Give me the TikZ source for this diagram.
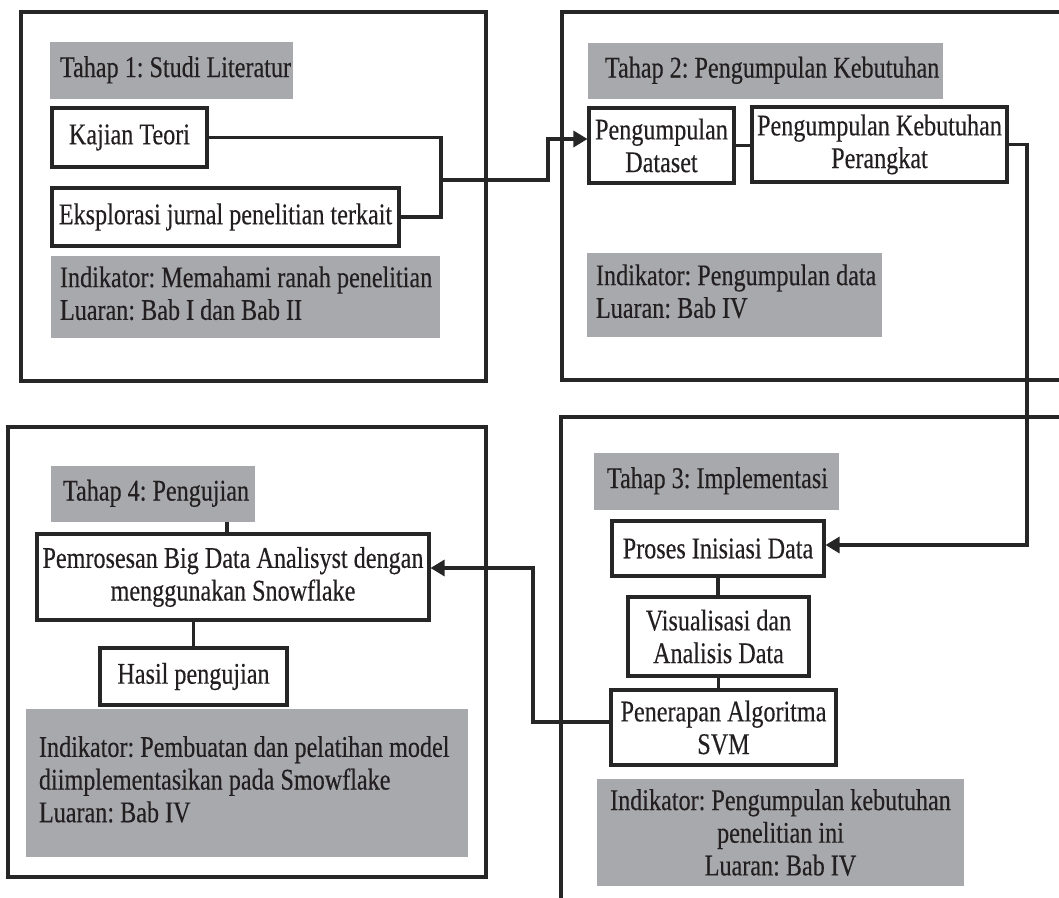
\documentclass[tikz,border=0pt]{standalone}
\usepackage{fontspec}
\setmainfont{Liberation Serif}[FakeStretch=0.805,FakeBold=0.3]
\usetikzlibrary{arrows.meta}
\definecolor{grayfill}{RGB}{167,169,172}
\definecolor{linec}{RGB}{38,38,38}
\definecolor{textc}{RGB}{35,31,32}
\frenchspacing
\hyphenpenalty=10000
\exhyphenpenalty=10000
\newcommand\gtext[3]{\makebox[#1][l]{\hspace*{#2}\begin{tabular}{@{}l@{}}#3\end{tabular}}}
\begin{document}
\begin{tikzpicture}[x=0.75pt,y=-0.75pt,
  font=\fontsize{22.5}{24.5}\selectfont, text=textc,
  box/.style={draw=linec, line width=2.3pt, fill=white, align=center, inner sep=1pt},
  gbox/.style={fill=grayfill, inner sep=0pt},
  frame/.style={draw=linec, line width=2.3pt},
  conn/.style={draw=linec, line width=2.3pt},
  arr/.style={conn, -{Triangle[length=10.5pt,width=12pt]}}]
\fill[white] (0,0) rectangle (1059,898);
\useasboundingbox (0,0) rectangle (1059,898);

% frames
\draw[frame] (21,12) rectangle (486,381);
\draw[frame] (1059,12) -- (562,12) -- (562,380) -- (1059,380);
\draw[frame] (1059,417) -- (561,417) -- (561,898);
\draw[frame] (8,427) rectangle (486,877);

% Tahap 1
\node[gbox, minimum width=182.25pt, minimum height=42.75pt] (t1) at (171.5,70.5) {\gtext{182.25pt}{7.5pt}{Tahap 1: Studi Literatur}};
\node[box, minimum width=116.25pt, minimum height=44.25pt] (kt) at (129.5,137.5) {Kajian Teori};
\node[box, minimum width=260.25pt, minimum height=43.5pt] (ek) at (225.5,217) {Eksplorasi jurnal penelitian terkait};
\node[gbox, minimum width=291.75pt, minimum height=61.5pt] (i1) at (245.5,297) {\gtext{291.75pt}{6.75pt}{Indikator: Memahami ranah penelitian\\Luaran: Bab I dan Bab II}};

% Tahap 2
\node[gbox, minimum width=266.25pt, minimum height=42pt] (t2) at (765.5,71) {\gtext{266.25pt}{12.75pt}{Tahap 2: Pengumpulan Kebutuhan}};
\node[box, minimum width=108.75pt, minimum height=56.25pt] (pd) at (661.5,145.5) {Pengumpulan\\Dataset};
\node[box, minimum width=191.25pt, minimum height=56.25pt] (pk) at (879.5,144.5) {Pengumpulan Kebutuhan\\Perangkat};
\node[gbox, minimum width=221.25pt, minimum height=63pt] (i2) at (734.5,295) {\gtext{221.25pt}{6.75pt}{Indikator: Pengumpulan data\\Luaran: Bab IV}};

% Tahap 3
\node[gbox, minimum width=183.75pt, minimum height=42.75pt] (t3) at (716.5,481.5) {\gtext{183.75pt}{9.75pt}{Tahap 3: Implementasi}};
\node[box, minimum width=159pt, minimum height=41.25pt] (pi) at (718,548.5) {Proses Inisiasi Data};
\node[box, minimum width=135.75pt, minimum height=59.25pt] (va) at (718.5,636.5) {Visualisasi dan\\Analisis Data};
\node[box, minimum width=168.75pt, minimum height=56.25pt] (pa) at (723.5,727.5) {Penerapan Algoritma\\SVM};
\node[gbox, align=center, minimum width=275.25pt, minimum height=80.25pt] (i3) at (780.5,832.5) {Indikator: Pengumpulan kebutuhan\\penelitian ini\\Luaran: Bab IV};

% Tahap 4
\node[gbox, minimum width=153pt, minimum height=42pt] (t4) at (153,494) {\gtext{153pt}{9pt}{Tahap 4: Pengujian}};
\node[box, minimum width=294pt, minimum height=64.5pt] (pb) at (233,577) {Pemrosesan Big Data Analisyst dengan\\menggunakan Snowflake};
\node[box, minimum width=140.25pt, minimum height=42.75pt] (hp) at (193.5,676.5) {Hasil pengujian};
\node[gbox, minimum width=331.5pt, minimum height=111pt] (i4) at (247,783) {\gtext{331.5pt}{9.75pt}{Indikator: Pembuatan dan pelatihan model\\diimplementasikan pada Smowflake\\Luaran: Bab IV}};

% connectors
\coordinate (j1) at (441,180);
\coordinate (j2) at (548,180);
\coordinate (j3) at (548,139);
\coordinate (j4) at (1027,545);
\coordinate (j5) at (533,722);
\coordinate (j6) at (533,568);
\coordinate (c4) at (227,522);

\draw[conn] (kt.east) -| (j1) |- (ek.east);
\draw[arr] (j1) -- (j2) -- (j3) -- (pd.west |- j3);
\draw[conn] (pd.east) -- (pd.east -| pk.west);
\draw[arr] (pk.east) -| (j4) -- (pi.east |- j4);
\draw[conn] (pi.south) -- (pi.south |- va.north);
\draw[conn] (va.south) -- (va.south |- pa.north);
\draw[arr] (pa.west |- j5) -- (j5) -- (j6) -- (pb.east |- j6);
\draw[conn] (c4) -- (c4 |- pb.north);
\draw[conn] (hp.north |- pb.south) -- (hp.north);
\end{tikzpicture}
\end{document}
